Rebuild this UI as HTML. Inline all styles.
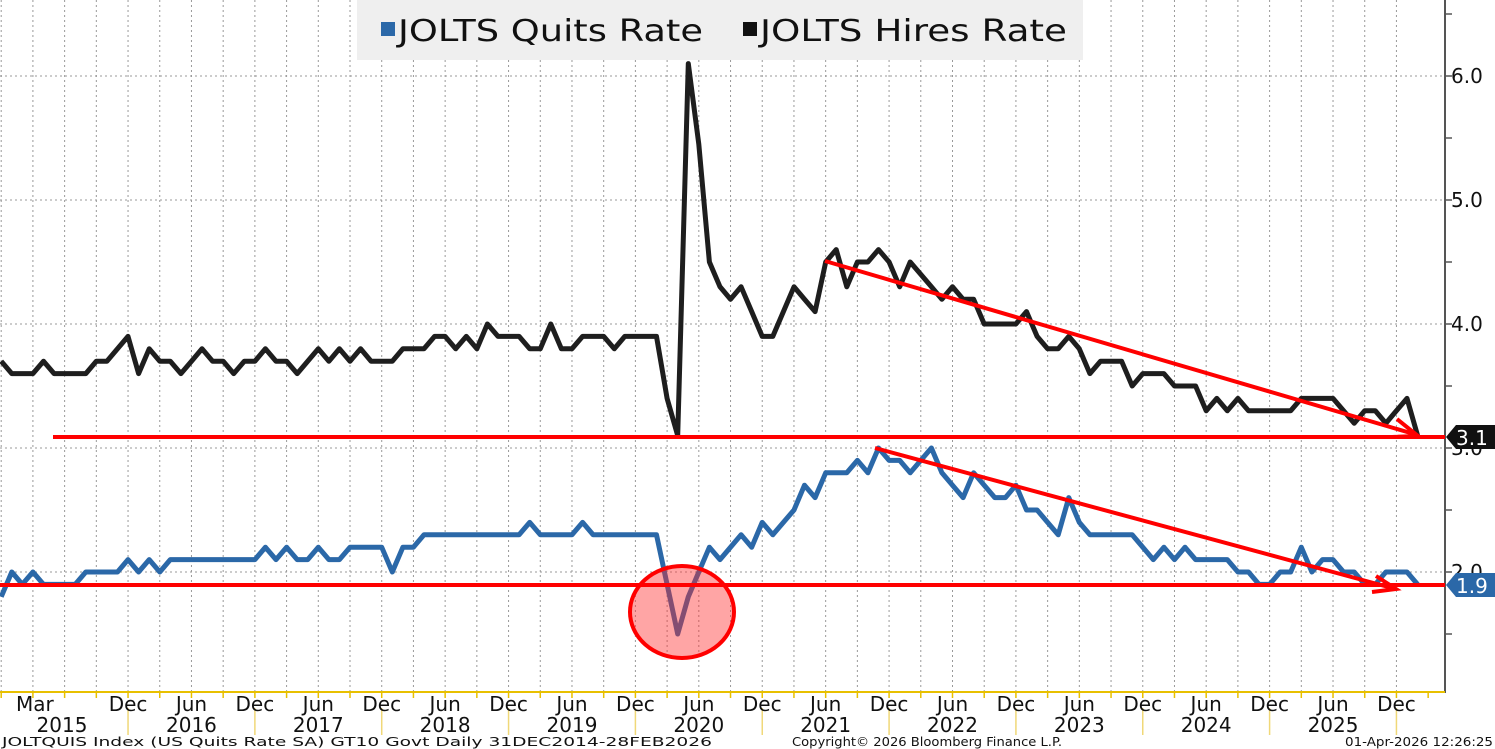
<!DOCTYPE html>
<html><head><meta charset="utf-8"><style>
html,body{margin:0;padding:0;background:#fff;}
svg{display:block;font-family:"DejaVu Sans","Liberation Sans",sans-serif;}
</style></head><body>
<svg id="c" width="1495" height="749" viewBox="0 0 1495 749" xmlns="http://www.w3.org/2000/svg">
<rect width="1495" height="749" fill="#fff"/>
<g id="grid" stroke="#999" stroke-width="1" stroke-dasharray="2,3"></g>
<rect x="357" y="0" width="726" height="60" fill="#efefef"/>
<rect x="381" y="22" width="14" height="14" fill="#2b68a8"/>
<text x="398" y="41" font-size="30" fill="#111" textLength="305" lengthAdjust="spacingAndGlyphs">JOLTS Quits Rate</text>
<rect x="743" y="22" width="14" height="14" fill="#111"/>
<text x="760" y="41" font-size="30" fill="#111" textLength="307" lengthAdjust="spacingAndGlyphs">JOLTS Hires Rate</text>
<!-- axes -->
<line x1="1445" y1="0" x2="1445" y2="693" stroke="#555" stroke-width="2"/>
<line x1="0" y1="692" x2="1445" y2="692" stroke="#e8c000" stroke-width="2"/>
<g id="ticks"></g>
<g font-size="20" fill="#111">
<text x="1451" y="83">6.0</text>
<text x="1451" y="207">5.0</text>
<text x="1451" y="331">4.0</text>
<text x="1451" y="455">3.0</text>
<text x="1451" y="579">2.0</text>
</g>
<polyline id="hires" fill="none" stroke="#1e1e1e" stroke-width="5" stroke-linejoin="round"/>
<polyline id="quits" fill="none" stroke="#2b68a8" stroke-width="5" stroke-linejoin="round"/>
<!-- annotations -->
<ellipse cx="682" cy="612" rx="52" ry="46" fill="rgba(255,40,40,0.42)" stroke="#ff0000" stroke-width="4"/>
<line x1="53" y1="437" x2="1445" y2="437" stroke="#ff0000" stroke-width="4"/>
<line x1="0" y1="585" x2="1445" y2="585" stroke="#ff0000" stroke-width="4"/>
<line x1="825" y1="261" x2="1414" y2="434" stroke="#ff0000" stroke-width="4"/>
<polyline points="1397,419 1418,436 1392,437" fill="none" stroke="#ff0000" stroke-width="4"/>
<line x1="875" y1="448" x2="1392" y2="588" stroke="#ff0000" stroke-width="4"/>
<polyline points="1376,576 1396,589 1372,592" fill="none" stroke="#ff0000" stroke-width="4"/>
<!-- tags -->
<polygon points="1446,437 1456,425 1495,425 1495,449 1456,449" fill="#111"/>
<text x="1456" y="445" font-size="20" fill="#fff">3.1</text>
<polygon points="1446,585 1456,573 1495,573 1495,597 1456,597" fill="#2b68a8"/>
<text x="1456" y="593" font-size="20" fill="#fff">1.9</text>
<g id="xl" font-size="20" fill="#111" text-anchor="middle"></g>
<g font-size="12" fill="#111">
<text x="2" y="746" textLength="710" lengthAdjust="spacingAndGlyphs">JOLTQUIS Index (US Quits Rate SA) GT10  Govt Daily 31DEC2014-28FEB2026</text>
<text x="792" y="746" textLength="270" lengthAdjust="spacingAndGlyphs">Copyright© 2026 Bloomberg Finance L.P.</text>
<text x="1345" y="746" textLength="148" lengthAdjust="spacingAndGlyphs">01-Apr-2026 12:26:25</text>
</g>
</svg>
<script>
var X=function(m){return 1.2+10.57*m;};
var Y=function(v){return 572-(v-2)*124;};
var H=[3.7,3.6,3.6,3.6,3.7,3.6,3.6,3.6,3.6,3.7,3.7,3.8,3.9,3.6,3.8,3.7,3.7,3.6,3.7,3.8,3.7,3.7,3.6,3.7,3.7,3.8,3.7,3.7,3.6,3.7,3.8,3.7,3.8,3.7,3.8,3.7,3.7,3.7,3.8,3.8,3.8,3.9,3.9,3.8,3.9,3.8,4.0,3.9,3.9,3.9,3.8,3.8,4.0,3.8,3.8,3.9,3.9,3.9,3.8,3.9,3.9,3.9,3.9,3.4,3.1,6.1,5.45,4.5,4.3,4.2,4.3,4.1,3.9,3.9,4.1,4.3,4.2,4.1,4.5,4.6,4.3,4.5,4.5,4.6,4.5,4.3,4.5,4.4,4.3,4.2,4.3,4.2,4.2,4.0,4.0,4.0,4.0,4.1,3.9,3.8,3.8,3.9,3.8,3.6,3.7,3.7,3.7,3.5,3.6,3.6,3.6,3.5,3.5,3.5,3.3,3.4,3.3,3.4,3.3,3.3,3.3,3.3,3.3,3.4,3.4,3.4,3.4,3.3,3.2,3.3,3.3,3.2,3.3,3.4,3.1];
var Q=[1.8,2.0,1.9,2.0,1.9,1.9,1.9,1.9,2.0,2.0,2.0,2.0,2.1,2.0,2.1,2.0,2.1,2.1,2.1,2.1,2.1,2.1,2.1,2.1,2.1,2.2,2.1,2.2,2.1,2.1,2.2,2.1,2.1,2.2,2.2,2.2,2.2,2.0,2.2,2.2,2.3,2.3,2.3,2.3,2.3,2.3,2.3,2.3,2.3,2.3,2.4,2.3,2.3,2.3,2.3,2.4,2.3,2.3,2.3,2.3,2.3,2.3,2.3,1.9,1.5,1.8,2.0,2.2,2.1,2.2,2.3,2.2,2.4,2.3,2.4,2.5,2.7,2.6,2.8,2.8,2.8,2.9,2.8,3.0,2.9,2.9,2.8,2.9,3.0,2.8,2.7,2.6,2.8,2.7,2.6,2.6,2.7,2.5,2.5,2.4,2.3,2.6,2.4,2.3,2.3,2.3,2.3,2.3,2.2,2.1,2.2,2.1,2.2,2.1,2.1,2.1,2.1,2.0,2.0,1.9,1.9,2.0,2.0,2.2,2.0,2.1,2.1,2.0,2.0,1.9,1.9,2.0,2.0,2.0,1.9];
function pts(a){return a.map(function(v,i){return X(i).toFixed(1)+","+Y(v).toFixed(1);}).join(" ");}
document.getElementById("hires").setAttribute("points",pts(H));
document.getElementById("quits").setAttribute("points",pts(Q));
var ns="http://www.w3.org/2000/svg";
function el(p,t,a,txt){var e=document.createElementNS(ns,t);for(var k in a)e.setAttribute(k,a[k]);if(txt)e.textContent=txt;p.appendChild(e);return e;}
var g=document.getElementById("grid");
for(var m=0;m<=132;m+=3){var x=X(m);el(g,"line",{x1:x,y1:0,x2:x,y2:692});}
[6,5,4,3,2].forEach(function(v){el(g,"line",{x1:0,y1:Y(v),x2:1445,y2:Y(v)});});
var t=document.getElementById("ticks");
for(var m=0;m<=135;m+=3){var x=X(m);el(t,"line",{x1:x,y1:692,x2:x,y2:698,stroke:"#e8c000","stroke-width":1.5});}
for(var v=1.5;v<=6.5;v+=0.5){el(t,"line",{x1:1445,y1:Y(v),x2:1452,y2:Y(v),stroke:"#555","stroke-width":1.5});}
for(var y=0;y<=10;y++){var x=X(12+12*y);el(t,"line",{x1:x,y1:708,x2:x,y2:735,stroke:"#f0d878","stroke-width":1.5});}
var xl=document.getElementById("xl");
el(xl,"text",{x:X(3)+2,y:711},"Mar");
for(var m=12;m<=132;m+=6){el(xl,"text",{x:X(m),y:711},(m%12==0)?"Dec":"Jun");}
el(xl,"text",{x:62,y:732},"2015");
for(var y=2016;y<=2025;y++){el(xl,"text",{x:X(18+12*(y-2016)),y:732},String(y));}
</script>
</body></html>
